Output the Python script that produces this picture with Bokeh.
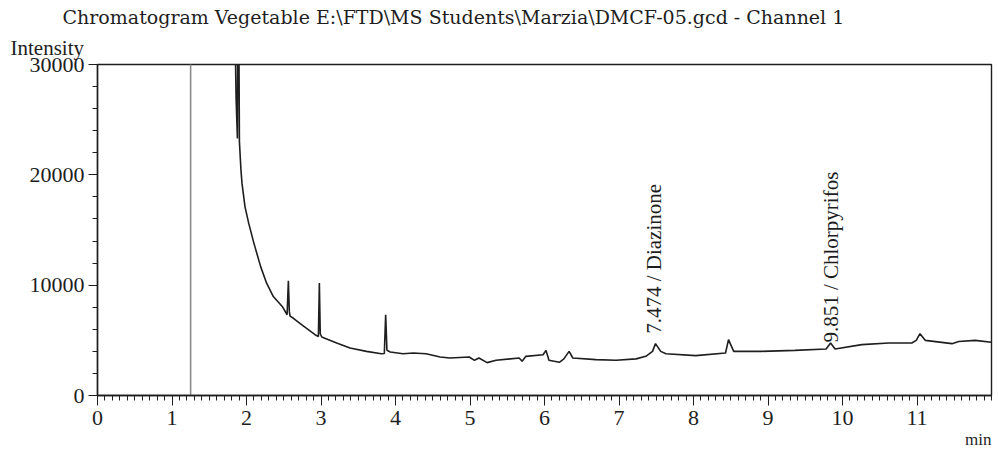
import numpy as np
from bokeh.plotting import figure
from bokeh.models import FixedTicker, Title, Range1d
from bokeh.core.properties import value
from bokeh.embed import file_html
from bokeh.resources import INLINE

# ---- data (time in min, intensity in counts) ----
time = [0.00, 1.25, 1.25, 1.785, 1.86, 1.878, 1.886, 1.892, 1.905, 1.925, 1.94,
        1.98, 2.03, 2.10, 2.19, 2.27, 2.36, 2.48, 2.545, 2.562, 2.575, 2.585,
        2.63, 2.77, 2.92, 2.965, 2.978, 2.99, 3.01, 3.21, 3.39, 3.61, 3.81, 3.85,
        3.868, 3.885, 3.93, 4.10, 4.24, 4.41, 4.60, 4.73, 4.99, 5.06, 5.12, 5.23,
        5.35, 5.66, 5.70, 5.75, 5.98, 6.02, 6.06, 6.20, 6.26, 6.33, 6.38, 6.69,
        6.96, 7.23, 7.36, 7.45, 7.49, 7.56, 7.63, 8.03, 8.43, 8.47, 8.54, 8.91,
        9.36, 9.78, 9.84, 9.90, 10.26, 10.62, 10.93, 10.99, 11.04, 11.11, 11.47,
        11.56, 11.78, 12.00]
intensity = [0, 0, 60000, 60000, 27000, 23300, 40000, 40000, 23000, 20500, 19200,
             17100, 15600, 13790, 11680, 10180, 8970, 8070, 7320, 10400, 7600, 7200,
             7000, 6260, 5510, 5350, 10200, 5600, 5300, 4760, 4310, 4000, 3790, 3800,
             7320, 4100, 3950, 3790, 3850, 3790, 3490, 3400, 3490, 3190, 3400, 2980,
             3190, 3400, 3100, 3550, 3700, 4090, 3190, 3010, 3320, 4000, 3400, 3250,
             3190, 3320, 3550, 4000, 4700, 4000, 3790, 3610, 3850, 5060, 4000, 4000,
             4090, 4220, 4760, 4220, 4610, 4760, 4760, 5000, 5600, 5000, 4700,
             4900, 5000, 4820]

peak_rt = [7.474, 9.851]
peak_name = ["Diazinone", "Chlorpyrifos"]

x_major = list(range(0, 12))
y_major = [0, 10000, 20000, 30000]

TITLE = "Chromatogram Vegetable E:\\FTD\\MS Students\\Marzia\\DMCF-05.gcd - Channel 1"
SERIF = "Liberation Serif"
INK = "#1e1e1e"

p = figure(width=998, height=456, output_backend="svg", toolbar_location=None,
           x_range=Range1d(0, 12.0), y_range=Range1d(0, 30000),
           min_border_left=97, min_border_right=7, min_border_top=64,
           min_border_bottom=61)
p.background_fill_color = "white"
p.border_fill_color = "white"
p.grid.visible = False
p.outline_line_color = INK
p.outline_line_width = 1.4

# axes
p.xaxis.ticker = FixedTicker(ticks=x_major,
                             minor_ticks=[i / 10 for i in range(0, 121)])
p.yaxis.ticker = FixedTicker(ticks=y_major,
                             minor_ticks=[i * 2000 for i in range(0, 16)])
for ax in (p.xaxis[0], p.yaxis[0]):
    ax.axis_line_color = INK
    ax.axis_line_width = 1.4
    ax.major_tick_line_color = INK
    ax.minor_tick_line_color = INK
    ax.major_tick_in = 0
    ax.minor_tick_in = 0
    ax.major_label_text_font = SERIF
    ax.major_label_text_font_size = "22px"
    ax.major_label_text_color = INK
p.xaxis.major_tick_out = 10
p.xaxis.minor_tick_out = 5
p.xaxis.major_label_standoff = 5
p.yaxis.major_tick_out = 9
p.yaxis.minor_tick_out = 5
p.yaxis.major_label_standoff = 4

# trace: injection/solvent rise drawn lighter, rest dark
p.line(time[:3], intensity[:3], line_color="#8a8a8a", line_width=1.6)
p.line(time[2:], intensity[2:], line_color=INK, line_width=1.6)

# peak annotations (vertical text above peaks)
offsets = [-10, -3]
for rt, name, off in zip(peak_rt, peak_name, offsets):
    yv = float(np.interp(rt + 0.015, time[2:], intensity[2:]))
    p.text(x=[rt], y=[yv], text=[f"{rt:.3f} / {name}"], angle=np.pi / 2,
           text_align="left", text_baseline="middle", y_offset=off,
           text_font=value(SERIF), text_font_size="21px", text_color=INK)

# main title (outer) and "Intensity" caption (inner), "min" below the x axis
p.title.text = TITLE
p.title.align = "left"
p.title.offset = -35
p.title.standoff = 2
p.title.text_font = "DejaVu Serif"
p.title.text_font_size = "19px"
p.title.text_font_style = "normal"
p.title.text_color = INK

sub = Title(text="Intensity", align="left", offset=-87, standoff=10)
sub.text_font = SERIF
sub.text_font_size = "21px"
sub.text_font_style = "normal"
sub.text_color = INK
p.add_layout(sub, "above")

mn = Title(text="min", align="right", offset=0, standoff=0)
mn.text_font = SERIF
mn.text_font_size = "17px"
mn.text_font_style = "normal"
mn.text_color = INK
p.add_layout(mn, "below")

open("out.html", "w").write(file_html(p, INLINE))
